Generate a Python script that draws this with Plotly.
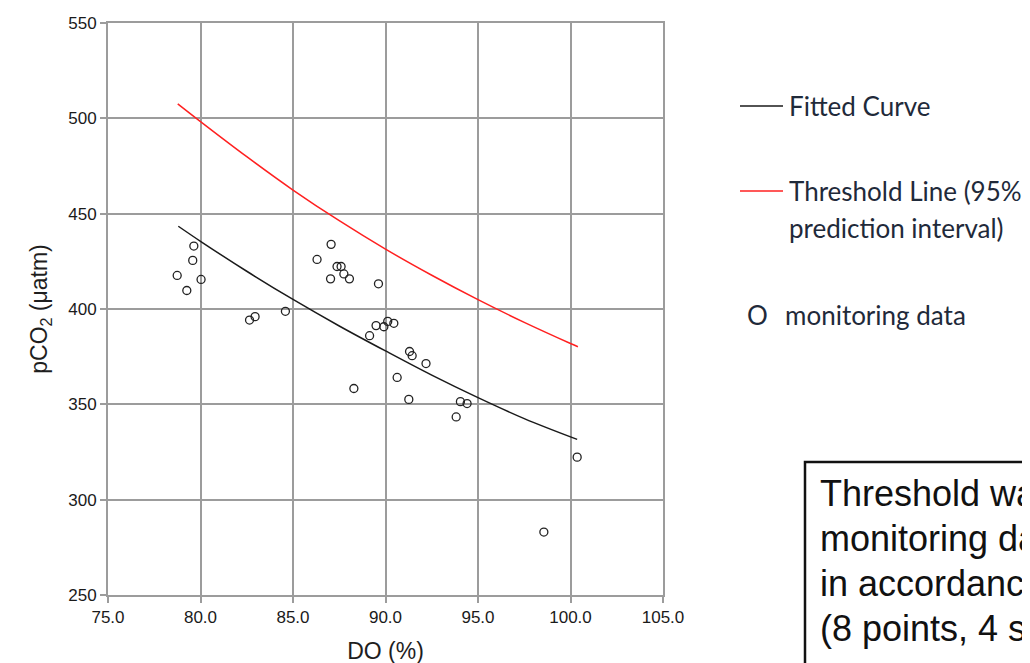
import plotly.graph_objects as go

# ---- data ----
do_obs = [79.64, 79.58, 78.74, 79.26, 80.03, 82.65, 82.95, 84.59, 86.30, 87.06,
          87.03, 87.38, 87.60, 87.75, 88.05, 89.62, 90.12, 90.45, 89.49, 89.91,
          89.14, 91.30, 91.44, 92.19, 90.63, 88.29, 91.26, 94.05, 94.41, 93.82,
          100.36, 98.56]
pco2_obs = [433.0, 425.5, 417.6, 409.7, 415.5, 394.2, 396.0, 398.8, 426.0, 433.9,
            415.8, 422.3, 422.3, 418.4, 415.8, 413.2, 393.5, 392.5, 391.3, 390.7,
            386.0, 377.7, 375.5, 371.4, 364.1, 358.3, 352.6, 351.4, 350.4, 343.4,
            322.3, 283.0]

fit_do = [78.8, 80.0, 82.5, 85.0, 87.5, 90.0, 92.5, 95.0, 97.5, 100.36]
fit_pco2 = [443.4, 435.5, 419.8, 405.0, 391.1, 378.0, 365.3, 353.5, 342.5, 331.6]

thr_do = [78.77, 80.0, 82.5, 85.0, 87.5, 90.0, 92.5, 95.0, 97.5, 100.0, 100.4]
thr_pco2 = [507.6, 498.3, 479.9, 462.4, 446.3, 431.4, 417.7, 404.9, 393.0, 381.9, 380.2]

x_ticks = [75, 80, 85, 90, 95, 100, 105]
y_ticks = [250, 300, 350, 400, 450, 500, 550]

legend_labels = ["Fitted Curve", "Threshold Line (95%", "prediction interval)",
                 "monitoring data"]
note_lines = ["Threshold was determined from the", "monitoring data collected",
              "in accordance with the plan", "(8 points, 4 seasons)"]

# ---- layout geometry (pixels) ----
W, H = 1030, 663
L, R, T, B = 100, 375, 15, 76
PW, PH = W - L - R, H - T - B


def px(xp):
    return (xp - L) / PW


def py(yp):
    return (H - B - yp) / PH


fig = go.Figure()
fig.add_trace(go.Scatter(x=do_obs, y=pco2_obs, mode="markers",
                         marker=dict(symbol="circle-open", size=8, color="#222222",
                                     line=dict(width=1.3, color="#222222")),
                         showlegend=False))
fig.add_trace(go.Scatter(x=fit_do, y=fit_pco2, mode="lines",
                         line=dict(color="#1a1a1a", width=1.5, shape="spline"),
                         showlegend=False))
fig.add_trace(go.Scatter(x=thr_do, y=thr_pco2, mode="lines",
                         line=dict(color="#ff2020", width=1.5, shape="spline"),
                         showlegend=False))

axis_common = dict(showgrid=True, gridcolor="#9c9c9c", gridwidth=1.5,
                   showline=True, linecolor="#9c9c9c", linewidth=2, mirror=True,
                   ticks="outside", ticklen=6, tickcolor="#9c9c9c", tickwidth=1.5,
                   zeroline=False,
                   tickfont=dict(family="Liberation Sans, Arial", size=17, color="#1a1a1a"))

fig.update_xaxes(range=[75, 105], tickvals=x_ticks,
                 ticktext=[f"{v:.1f}" for v in x_ticks],
                 title=dict(text="DO (%)", standoff=16,
                            font=dict(family="Liberation Sans, Arial", size=23, color="#1e1e1e")),
                 **axis_common)
fig.update_yaxes(range=[250, 550], tickvals=y_ticks,
                 title=dict(text="pCO<sub>2</sub> (μatm)", standoff=14,
                            font=dict(family="Liberation Sans, Arial", size=23, color="#1e1e1e")),
                 **axis_common)

shapes = []
annotations = []
leg_font = dict(family="Lato, Carlito, sans-serif", size=26, color="#1f2a3a")

# legend lines
shapes.append(dict(type="line", xref="paper", yref="paper",
                   x0=px(732), x1=px(775), y0=py(98), y1=py(98),
                   line=dict(color="#1a1a1a", width=1.5)))
shapes.append(dict(type="line", xref="paper", yref="paper",
                   x0=px(732), x1=px(775), y0=py(183), y1=py(183),
                   line=dict(color="#ff2020", width=1.5)))

for text, xp, yp in [(legend_labels[0], 779, 98), (legend_labels[1], 779, 183),
                     (legend_labels[2], 779, 220), (legend_labels[3], 775, 307)]:
    annotations.append(dict(xref="paper", yref="paper", x=px(xp), y=py(yp),
                            xanchor="left", yanchor="middle", showarrow=False,
                            text=text, font=leg_font))
annotations.append(dict(xref="paper", yref="paper", x=px(737), y=py(307),
                        xanchor="left", yanchor="middle", showarrow=False,
                        text="O", font=leg_font))

# note box
shapes.append(dict(type="rect", xref="paper", yref="paper",
                   x0=px(797), x1=px(1150), y0=py(454), y1=py(658),
                   line=dict(color="#111111", width=2.5), fillcolor="rgba(0,0,0,0)"))
for i, line in enumerate(note_lines):
    annotations.append(dict(xref="paper", yref="paper", x=px(810), y=py(485 + 45 * i),
                            xanchor="left", yanchor="middle", showarrow=False,
                            text=line,
                            font=dict(family="Liberation Sans, Arial", size=36, color="#111111")))

fig.update_layout(width=W, height=H, margin=dict(l=L, r=R, t=T, b=B, autoexpand=False),
                  paper_bgcolor="white", plot_bgcolor="white",
                  shapes=shapes, annotations=annotations, showlegend=False)

fig.write_html("out.html")
